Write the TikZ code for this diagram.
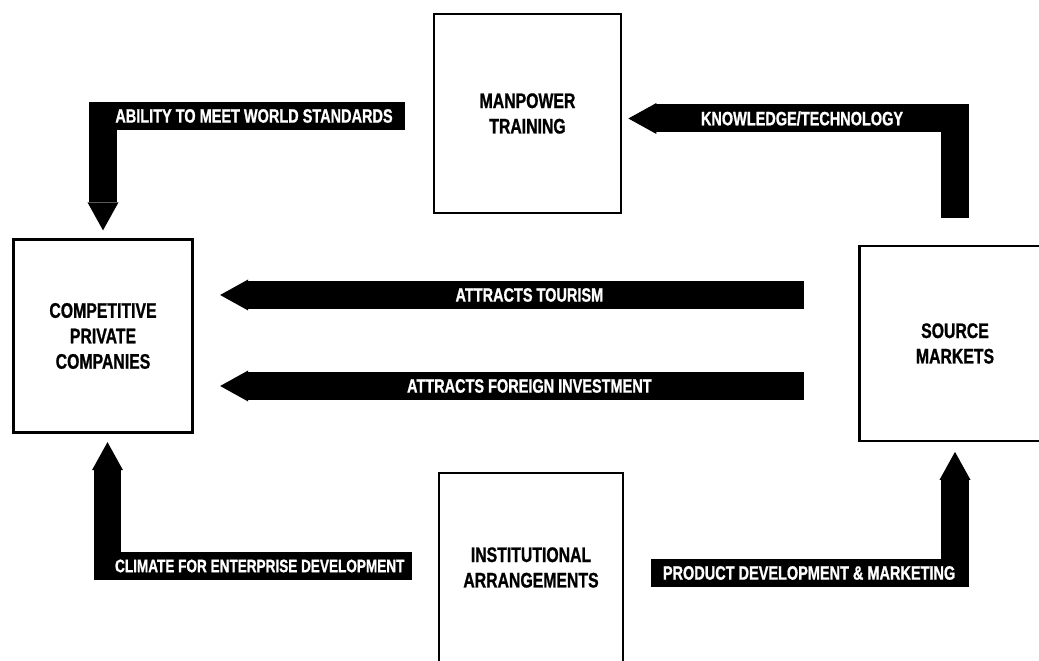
\documentclass[tikz,border=0pt]{standalone}
\usepackage{fontspec}
\newfontfamily\chartfont[FakeStretch=0.75, FakeBold=1]{Liberation Sans}
\usetikzlibrary{arrows.meta}
\tikzset{
    box/.style={draw, line width=1.6pt, align=center, inner sep=0pt,
        font=\chartfont\bfseries\fontsize{12}{14.5}\selectfont},
    band/.style={line width=0.56cm, -{Triangle[length=0.56cm, width=0.62cm, line width=0pt]}},
    bandlabel/.style={text=white, inner sep=0pt,
        font=\chartfont\bfseries\fontsize{11}{13}\selectfont}
}
\begin{document}
\begin{tikzpicture}[x=0.02cm, y=-0.02cm]
    \useasboundingbox (0,0) rectangle (1039,661);
    \node[box, minimum width=3.74cm, minimum height=3.98cm] (mp) at (527.5,113.5) {MANPOWER\\TRAINING};
    \node[box, minimum width=3.57cm, minimum height=3.85cm] (cpc) at (103,336) {COMPETITIVE\\PRIVATE\\COMPANIES};
    \node[box, minimum width=3.81cm, minimum height=3.9cm] (sm) at (955,343.5) {SOURCE\\MARKETS};
    \node[box, minimum width=3.68cm, minimum height=3.78cm] (ia) at (531,567.5) {INSTITUTIONAL\\ARRANGEMENTS};
    \coordinate (a0) at (405,116);
    \coordinate (k0) at (955,218);
    \coordinate (t0) at (804,295);
    \coordinate (f0) at (804,386);
    \coordinate (c0) at (412,566);
    \coordinate (p0) at (651,573);
    \draw[band, shorten >=0.16cm] (a0) -| (cpc.north) node[bandlabel, pos=0.25] {ABILITY TO MEET WORLD STANDARDS};
    \draw[band, shorten >=0.12cm] (k0) |- ([yshift=-0.1cm]mp.east) node[bandlabel, pos=0.73] {KNOWLEDGE/TECHNOLOGY};
    \draw[band, shorten >=0.53cm] (t0) -- (t0 -| cpc.east) node[bandlabel, pos=0.45] {ATTRACTS TOURISM};
    \draw[band, shorten >=0.53cm] (f0) -- (f0 -| cpc.east) node[bandlabel, pos=0.45] {ATTRACTS FOREIGN INVESTMENT};
    \draw[band, shorten >=0.17cm] (c0) -| ([xshift=0.09cm]cpc.south) node[bandlabel, pos=0.25, font=\chartfont\bfseries\fontsize{10.3}{13}\selectfont] {CLIMATE FOR ENTERPRISE DEVELOPMENT};
    \draw[band, shorten >=0.19cm] (p0) -| (sm.south) node[bandlabel, pos=0.26] {PRODUCT DEVELOPMENT \& MARKETING};
\end{tikzpicture}
\end{document}
